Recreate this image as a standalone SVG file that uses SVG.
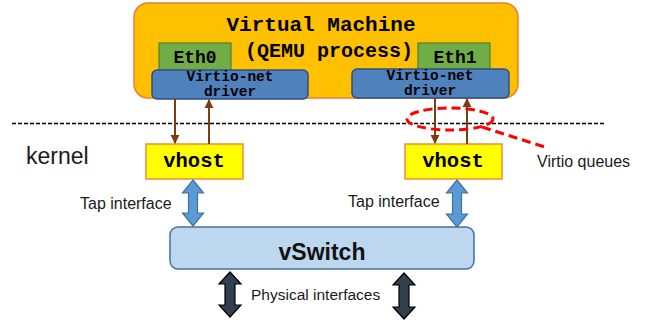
<svg xmlns="http://www.w3.org/2000/svg" width="655" height="322" viewBox="0 0 655 322">
<defs>
<style>
.mono{font-family:"Liberation Mono","Courier New",monospace;font-weight:bold;fill:#000;text-anchor:middle}
.sans{font-family:"Liberation Sans",Arial,sans-serif;fill:#1a1a1a}
.drv{fill:#4F81BD;stroke:#2F4F7F;stroke-width:1.5}
.eth{fill:#70AD47;stroke:#507E32;stroke-width:1.2}
.vh{fill:#FFFF00;stroke:#F58A3A;stroke-width:1.5}
.brown{stroke:#7A3E10;stroke-width:2;fill:none}
.tap{fill:#5B9BD5;stroke:#41719C;stroke-width:1.2}
.phy{fill:#323F4F;stroke:#000;stroke-width:1.2}
</style>
<marker id="ah" viewBox="0 0 10 10" refX="9" refY="5" markerWidth="4.5" markerHeight="5" orient="auto" markerUnits="strokeWidth">
<path d="M0,0 L10,5 L0,10 z" fill="#7A3E10"/>
</marker>
</defs>

<g id="vm">
<rect x="134" y="3" width="384" height="95" rx="14" fill="#FFC000" stroke="#ED7D31" stroke-width="1.5"/>
<text class="mono" x="321" y="31" font-size="21">Virtual Machine</text>
<text class="mono" x="329" y="57" font-size="20">(QEMU process)</text>
</g>

<g id="eth0">
<rect class="eth" x="159" y="43" width="72" height="30"/>
<text class="mono" x="195" y="63" font-size="18">Eth0</text>
</g>
<g id="eth1">
<rect class="eth" x="418" y="43" width="72" height="30"/>
<text class="mono" x="455" y="63" font-size="18">Eth1</text>
</g>

<g id="driver0">
<rect class="drv" x="152" y="70" width="156" height="29" rx="5"/>
<text class="mono" x="230" y="81" font-size="14.5">Virtio-net</text>
<text class="mono" x="230" y="96" font-size="14.5">driver</text>
</g>
<g id="driver1">
<rect class="drv" x="352" y="69" width="157" height="29" rx="5"/>
<text class="mono" x="430" y="80" font-size="14.5">Virtio-net</text>
<text class="mono" x="430" y="95" font-size="14.5">driver</text>
</g>

<g id="kernel-line">
<line x1="12" y1="123.5" x2="604" y2="123.5" stroke="#000" stroke-width="1.5" stroke-dasharray="4,2"/>
<text class="sans" x="26" y="164" font-size="23">kernel</text>
</g>

<g id="vhost0">
<rect class="vh" x="146" y="144" width="97" height="35"/>
<text class="mono" x="194" y="167" font-size="20.5">vhost</text>
</g>
<g id="vhost1">
<rect class="vh" x="405" y="144" width="97" height="35"/>
<text class="mono" x="453" y="167" font-size="20.5">vhost</text>
</g>

<g id="vswitch">
<rect x="170" y="227" width="304" height="42" rx="8" fill="#BDD7EE" stroke="#41719C" stroke-width="1.5"/>
<text x="322" y="260" font-family="Liberation Sans,Arial,sans-serif" font-weight="bold" font-size="23" fill="#111" text-anchor="middle">vSwitch</text>
</g>

<g id="connectors">
<line class="brown" x1="175" y1="99" x2="175" y2="143" marker-end="url(#ah)"/>
<line class="brown" x1="209" y1="144" x2="209" y2="100" marker-end="url(#ah)"/>
<line class="brown" x1="435" y1="98" x2="435" y2="143" marker-end="url(#ah)"/>
<line class="brown" x1="467" y1="144" x2="467" y2="99" marker-end="url(#ah)"/>
<polygon class="tap" points="193,180 203.5,193 197.5,193 197.5,213 203.5,213 193,226 182.5,213 188.5,213 188.5,193 182.5,193"/>
<polygon class="tap" points="457,180 467.5,193 461.5,193 461.5,214 467.5,214 457,227 446.5,214 452.5,214 452.5,193 446.5,193"/>
<polygon class="phy" points="230,272 241,284 235,284 235,305 241,305 230,317 219,305 225,305 225,284 219,284"/>
<polygon class="phy" points="404,273 415,285 409,285 409,307 415,307 404,319 393,307 399,307 399,285 393,285"/>
</g>

<g id="virtio-queues">
<ellipse cx="450" cy="119" rx="43" ry="11" fill="none" stroke="#FF0000" stroke-width="3" stroke-dasharray="9,5"/>
<line x1="482" y1="127" x2="548" y2="148" stroke="#FF0000" stroke-width="3" stroke-dasharray="9,5"/>
<text class="sans" x="537" y="167" font-size="16">Virtio queues</text>
</g>

<g id="labels">
<text class="sans" x="80" y="209" font-size="16">Tap interface</text>
<text class="sans" x="348" y="207" font-size="16">Tap interface</text>
<text class="sans" x="251" y="300" font-size="15.5">Physical interfaces</text>
</g>
</svg>
